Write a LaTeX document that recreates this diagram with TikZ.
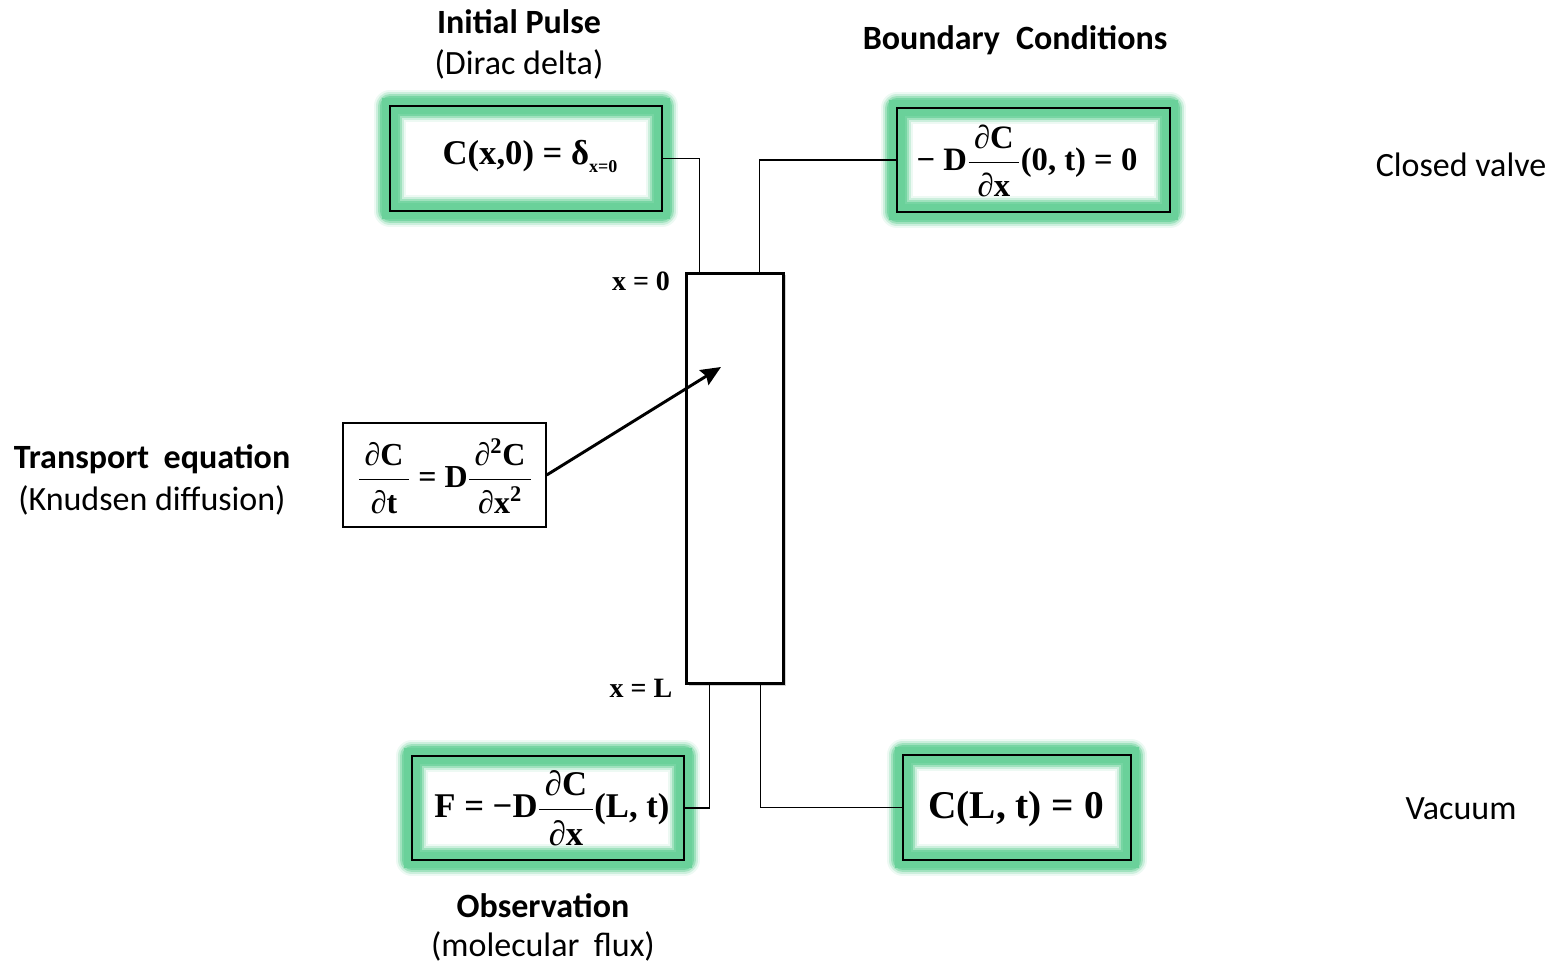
\documentclass[tikz,border=0pt]{standalone}
\usepackage{amsmath}
\usepackage{fontspec}
\setmainfont{Carlito}
\newfontfamily\tnr{Liberation Serif}
\usetikzlibrary{arrows.meta,shadows,calc}
\definecolor{glow}{RGB}{106,209,154}
\newcommand{\pfrac}[2]{$\genfrac{}{}{0.7pt}{0}{\mbox{\,#1\,\rule[-0.25em]{0pt}{0pt}}}{\mbox{\,#2\,\rule{0pt}{0.95em}}}$}
\newcommand{\pd}{{\mdseries ∂}}
\tikzset{
  lbl/.style={font=\fontsize{25.5}{30}\selectfont, align=center, inner sep=0pt},
  lblb/.style={lbl, font=\fontsize{25.5}{30}\selectfont\bfseries},
  eq/.style={font=\tnr\bfseries\fontsize{26}{30}\selectfont, inner sep=0pt},
  glowbox/.style={draw=black, line width=1.1pt, rectangle, inner sep=0pt,
    preaction={draw=glow, line width=24pt, draw opacity=0.12, line join=round},
    preaction={draw=glow, line width=21pt, draw opacity=0.25, line join=round},
    preaction={draw=glow, line width=18pt, draw opacity=0.45, line join=round},
    preaction={draw=glow, line width=15pt, draw opacity=0.75, line join=round},
    preaction={draw=glow, line width=12pt}},
  plainbox/.style={draw=black, line width=1.1pt, rectangle, inner sep=0pt},
  conn/.style={draw=black, line width=0.9pt},
}
\begin{document}
\begin{tikzpicture}[x=0.75pt,y=-0.75pt]
\useasboundingbox (0,0) rectangle (1554,963);
% tube
\node[draw=black, line width=2.2pt, fill=white, minimum width=72.75pt, minimum height=307.5pt,
  drop shadow={shadow xshift=1.5pt, shadow yshift=-1.5pt, opacity=0.35}] (tube) at (735,478.5) {};
\coordinate (tA) at ($(tube.north west)!0.143!(tube.north east)$);
\coordinate (tB) at ($(tube.north west)!0.745!(tube.north east)$);
\coordinate (bA) at ($(tube.south west)!0.245!(tube.south east)$);
\coordinate (bB) at ($(tube.south west)!0.755!(tube.south east)$);
\coordinate (arrEnd) at (721,367);

% glow boxes
\node[glowbox, minimum width=204pt, minimum height=78.75pt] (init) at (526,158.5) {};
\node[eq, font=\tnr\bfseries\fontsize{26}{30}\selectfont] (initeq) at (530,156) {C(x,0) = δ\raisebox{-0.5ex}{\fontsize{13.5}{14}\selectfont x=0}};

\node[glowbox, minimum width=204.75pt, minimum height=78pt] (bc) at (1033.5,160) {};
\node[eq, font=\tnr\bfseries\fontsize{24.5}{28}\selectfont] (bceq) at (1027,161) {− D\pfrac{\pd C}{\pd x}(0, t) = 0};

\node[glowbox, minimum width=204pt, minimum height=78pt] (obs) at (548,808) {};
\node[eq] (obseq) at (552,808) {F = −D\pfrac{\pd C}{\pd x}(L, t)};

\node[glowbox, minimum width=171pt, minimum height=78.75pt] (vac) at (1017,807.5) {};
\node[eq, font=\tnr\bfseries\fontsize{29.5}{33}\selectfont] (vaceq) at (1016,809) {C(L, t) = 0};

\node[plainbox, minimum width=152.25pt, minimum height=78pt] (tr) at (444.5,475) {};
\node[eq, font=\tnr\bfseries\fontsize{24}{28}\selectfont] (treq) at (445,476) {\pfrac{\pd C}{\pd t} = D\pfrac{\pd\textsuperscript{2}C}{\pd x\textsuperscript{2}}};

% connectors
\draw[conn] (init.east) -| (tA);
\draw[conn] (bc.west) -| (tB);
\draw[conn] (obs.east) -| (bA);
\draw[conn] (vac.west) -| (bB);
\draw[line width=2.2pt, -{Stealth[length=15pt,width=13pt,inset=2pt]}] (tr.east) -- (arrEnd);

% x labels
\node[eq, font=\tnr\bfseries\fontsize{21}{24}\selectfont] (x0) at (641,281) {x = 0};
\node[eq, font=\tnr\bfseries\fontsize{21}{24}\selectfont] (xL) at (641,688) {x = L};

% text labels
\node[lblb] (t1) at (519,22) {Initial Pulse};
\node[lbl] (t2) at (519,64) {(Dirac delta)};
\node[lblb] (t3) at (1015,40) {Boundary\hspace{0.25em} Conditions};
\node[lbl] (t4) at (1461,165) {Closed valve};
\node[lblb] (t5) at (152,459) {Transport\hspace{0.2em} equation};
\node[lbl] (t6) at (152,500) {(Knudsen diffusion)};
\node[lblb] (t7) at (543,906) {Observation};
\node[lbl] (t8) at (543,946) {(molecular\hspace{0.2em} flux)};
\node[lbl] (t9) at (1461,809) {Vacuum};
\end{tikzpicture}
\end{document}
